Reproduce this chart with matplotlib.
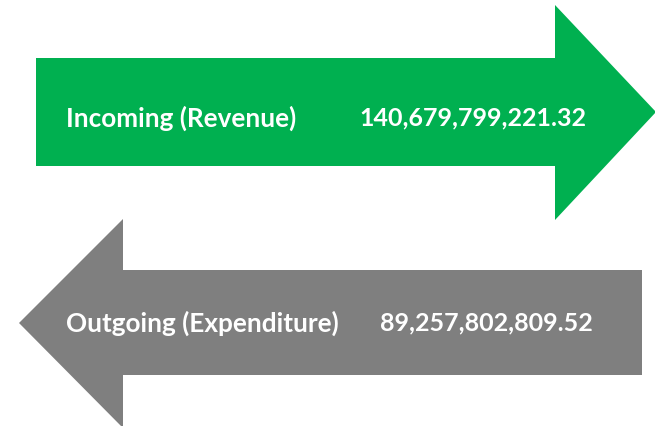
import matplotlib.pyplot as plt
from matplotlib.patches import Polygon

# flows and amounts
labels = ['Incoming (Revenue)', 'Outgoing (Expenditure)']
amounts = [140679799221.32, 89257802809.52]
colours = ['#00b050', '#7f7f7f']

plt.rcParams['font.family'] = ['Lato', 'DejaVu Sans']

fig = plt.figure(figsize=(6.55, 4.26), dpi=100)
ax = fig.add_axes([0, 0, 1, 1])
ax.set_xlim(0, 655)
ax.set_ylim(426, 0)
ax.axis('off')

# right-pointing arrow
green = [(36, 58), (555, 58), (555, 5), (656, 112), (555, 220),
         (555, 166), (36, 166)]
# left-pointing arrow
grey = [(642, 270), (123, 270), (123, 219), (19, 323), (123, 428),
        (123, 375), (642, 375)]

for pts, col in zip([green, grey], colours):
    ax.add_patch(Polygon(pts, closed=True, facecolor=col, edgecolor='none'))

ys = [118, 323]
num_x = [359, 380]
for lab, amt, y, nx in zip(labels, amounts, ys, num_x):
    ax.text(66, y, lab, color='white', fontsize=18.8, fontweight='bold',
            va='center', ha='left')
    ax.text(nx, y, f'{amt:,.2f}', color='white', fontsize=18,
            fontweight='bold', va='center', ha='left')

fig.savefig('out.png', dpi=100)
